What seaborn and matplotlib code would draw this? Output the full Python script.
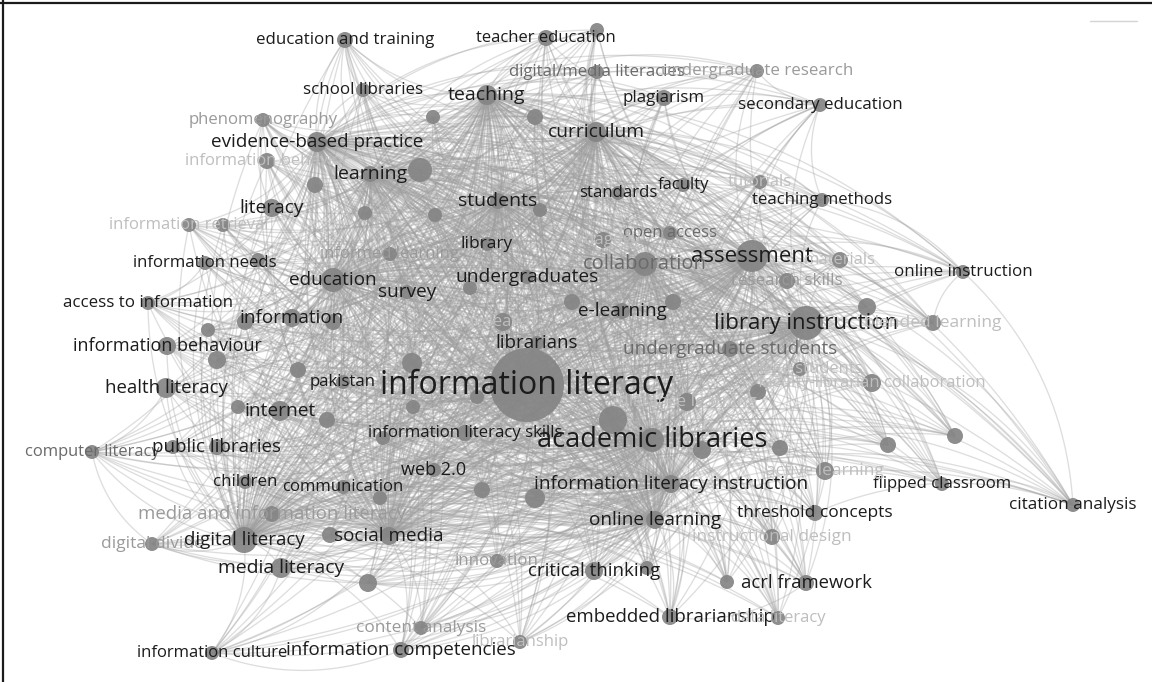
import numpy as np
import pandas as pd
import matplotlib
matplotlib.use("Agg")
import matplotlib.pyplot as plt
from matplotlib.collections import LineCollection
from matplotlib.lines import Line2D
import seaborn as sns

# keyword co-occurrence map, map units (x to the right, y downward)
labels = ["information literacy", "academic libraries", "library instruction", "assessment",
          "collaboration", "education and training", "teacher education", "school libraries",
          "teaching", "digital/media literacies", "undergraduate research", "plagiarism",
          "secondary education", "phenomenography", "evidence-based practice", "curriculum",
          "information behavior", "learning", "students", "standards", "faculty", "tutorials",
          "teaching methods", "literacy", "information retrieval", "library", "open access",
          "pedagogy", "informed learning", "information needs", "materials", "online instruction",
          "education", "undergraduates", "research skills", "survey", "access to information",
          "e-learning", "information", "blended learning", "research", "librarians",
          "information behaviour", "undergraduate students", "college students", "pakistan",
          "health literacy", "faculty-librarian collaboration", "distance learning", "internet",
          "information literacy skills", "computer literacy", "public libraries", "web 2.0",
          "children", "communication", "information literacy instruction", "flipped classroom",
          "active learning", "citation analysis", "threshold concepts",
          "media and information literacy", "online learning", "social media",
          "instructional design", "digital divide", "digital literacy", "innovation",
          "media literacy", "critical thinking", "acrl framework", "embedded librarianship",
          "data literacy", "content analysis", "librarianship", "information culture",
          "information competencies"]
map_x = [527, 652, 806, 752, 645, 345, 546, 363, 487, 597, 757, 664, 820, 263, 317, 596,
         267, 370, 498, 618, 683, 760, 822, 272, 189, 487, 670, 603, 390, 205, 840, 963,
         333, 527, 787, 407, 148, 622, 292, 933, 503, 537, 167, 730, 800, 343, 166, 872,
         687, 280, 465, 92, 217, 434, 245, 343, 671, 942, 825, 1073, 815, 272, 655, 389,
         772, 152, 244, 497, 281, 594, 806, 670, 778, 421, 520, 212, 401]
map_y = [385, 440, 323, 256, 264, 40, 38, 90, 95, 72, 71, 98, 105, 120, 142, 132,
         161, 174, 201, 193, 185, 182, 200, 208, 225, 244, 233, 240, 254, 263, 260, 272,
         280, 277, 281, 292, 303, 311, 318, 323, 322, 343, 346, 349, 369, 382, 388, 383,
         402, 411, 433, 452, 447, 470, 482, 487, 484, 484, 471, 505, 513, 514, 520, 536,
         537, 544, 540, 561, 568, 571, 583, 617, 618, 628, 642, 653, 650]
node_r = [37, 12, 17, 16, 12, 8, 8, 7, 10, 7, 7, 8, 7, 7, 10, 10,
          8, 8, 8, 7, 7, 7, 7, 9, 7, 7, 7, 8, 7, 7, 8, 7,
          12, 7, 8, 7, 7, 8, 9, 8, 9, 7, 9, 8, 7, 7, 10, 9,
          9, 10, 8, 7, 8, 7, 7, 7, 9, 7, 9, 7, 8, 8, 9, 9,
          8, 7, 13, 7, 10, 9, 8, 8, 7, 7, 7, 7, 8]
font_pt = [23, 19.5, 16, 16, 14.5, 12.2, 12, 12.2, 14, 12.1, 12.2, 12.2, 12.2, 12.1, 13.6, 13.8,
           12, 14, 14, 12.1, 12, 12, 12.1, 13.8, 12, 12.5, 12, 12, 12, 12.1, 12, 12.2,
           13.6, 13.8, 12.2, 13.7, 12.2, 13.6, 13.6, 12.5, 12, 13.5, 13, 13.6, 12, 12.1, 13.4, 12,
           12.5, 13.8, 12.1, 11.9, 13.5, 13, 12.2, 12.1, 13.7, 12.1, 12.5, 12.3, 12.5, 13.4,
           13.7, 13.6, 12.5, 12.5, 13.5, 12.2, 13.9, 13.4, 13.3, 13.4, 12, 12.4, 12, 12, 13.5]
# 0 = dark label, 1 = mid grey, 2 = light grey, 3 = faint
tone = [0, 0, 0, 0, 1, 0, 0, 0, 0, 1, 2, 0, 0, 2, 0, 0,
        3, 0, 0, 0, 0, 3, 0, 0, 3, 0, 1, 3, 2, 0, 3, 0,
        0, 0, 2, 0, 0, 0, 0, 3, 3, 0, 0, 1, 3, 0, 0, 3,
        3, 0, 0, 1, 0, 0, 0, 0, 0, 0, 3, 0, 0, 2, 0, 0,
        3, 2, 0, 2, 0, 0, 0, 0, 3, 2, 3, 0, 0]

# keywords drawn without a visible label
hidden_x = [597, 433, 535, 420, 315, 365, 435, 540, 223, 258, 470, 572, 673, 245, 333, 208,
            867, 217, 298, 412, 413, 477, 613, 758, 238, 327, 383, 173, 780, 888, 955, 702,
            380, 482, 535, 330, 647, 727, 368]
hidden_y = [30, 117, 117, 170, 185, 213, 215, 210, 225, 260, 288, 302, 302, 322, 322, 330,
            307, 360, 370, 363, 407, 397, 420, 392, 407, 420, 438, 447, 448, 445, 436, 450,
            498, 490, 498, 535, 568, 582, 583]
hidden_r = [7, 7, 8, 12, 8, 7, 7, 7, 7, 7, 7, 8, 8, 8, 8, 7,
            9, 9, 8, 10, 7, 7, 14, 8, 7, 8, 7, 7, 8, 8, 8, 9,
            7, 8, 10, 8, 7, 7, 9]

hubs = ["information literacy", "academic libraries", "library instruction", "assessment",
        "education", "learning", "students", "collaboration", "digital literacy",
        "information literacy instruction", "evidence-based practice", "curriculum",
        "online learning", "social media", "teaching"]
extra_links = [("citation analysis", "flipped classroom"), ("citation analysis", "threshold concepts"),
               ("citation analysis", "online instruction"), ("online instruction", "blended learning"),
               ("online instruction", "teaching methods"), ("computer literacy", "digital divide"),
               ("computer literacy", "health literacy"), ("information culture", "media literacy"),
               ("information culture", "information competencies"), ("education and training", "school libraries"),
               ("teacher education", "plagiarism"), ("secondary education", "teaching methods"),
               ("undergraduate research", "secondary education"), ("phenomenography", "literacy"),
               ("embedded librarianship", "acrl framework"), ("access to information", "information needs")]

pos = {}
for lab, x, y in zip(labels, map_x, map_y):
    pos[lab] = (x, y)

all_x = map_x + hidden_x
all_y = map_y + hidden_y
all_r = node_r + hidden_r

pairs = []
for i in range(len(all_x)):
    for h in hubs:
        hx, hy = pos[h]
        if (hx, hy) != (all_x[i], all_y[i]):
            pairs.append(((all_x[i], all_y[i]), (hx, hy)))
for a, b in extra_links:
    pairs.append((pos[a], pos[b]))

sns.set_theme(style="white")
plt.rcParams["font.family"] = ["Open Sans", "DejaVu Sans"]

fig = plt.figure(figsize=(11.52, 6.82), dpi=100)
ax = fig.add_axes([0, 0, 1, 1])

# curved links
t = np.linspace(0, 1, 30)[:, None]
segs = []
for (x0, y0), (x1, y1) in pairs:
    dx, dy = x1 - x0, y1 - y0
    c = np.array([(x0 + x1) / 2 - 0.2 * dy, (y0 + y1) / 2 + 0.2 * dx])
    p = (1 - t) ** 2 * np.array([x0, y0]) + 2 * (1 - t) * t * c + t ** 2 * np.array([x1, y1])
    segs.append(p)
ax.add_collection(LineCollection(segs, colors="#9e9e9e", linewidths=0.95, alpha=0.34, zorder=1))

nodes = pd.DataFrame({"x": all_x, "y": all_y, "area": [(1.44 * r) ** 2 for r in all_r]})
amin, amax = nodes["area"].min(), nodes["area"].max()
sns.scatterplot(data=nodes, x="x", y="y", size="area", sizes=(amin, amax), size_norm=(amin, amax),
                color="#858585", edgecolor="none", alpha=0.93, legend=False, ax=ax, zorder=2)

tone_col = {0: "#1c1c1c", 1: "#6a6a6a", 2: "#9a9a9a", 3: "#bebebe"}
for lab, x, y, fs, tn in zip(labels, map_x, map_y, font_pt, tone):
    ax.text(x, y, lab, ha="center", va="center", fontsize=fs, color=tone_col[tn], zorder=3)

ax.plot([1090, 1137], [21, 21], color="#d4d4d4", lw=1)
ax.set_xlim(0, 1152)
ax.set_ylim(682, 0)
ax.axis("off")

fig.add_artist(Line2D([3 / 1152, 3 / 1152], [0, 1], color="#1a1a1a", lw=1.6, transform=fig.transFigure))
fig.add_artist(Line2D([0, 1], [1 - 3 / 682, 1 - 3 / 682], color="#1a1a1a", lw=1.6, transform=fig.transFigure))

fig.savefig("out.png", dpi=100)
